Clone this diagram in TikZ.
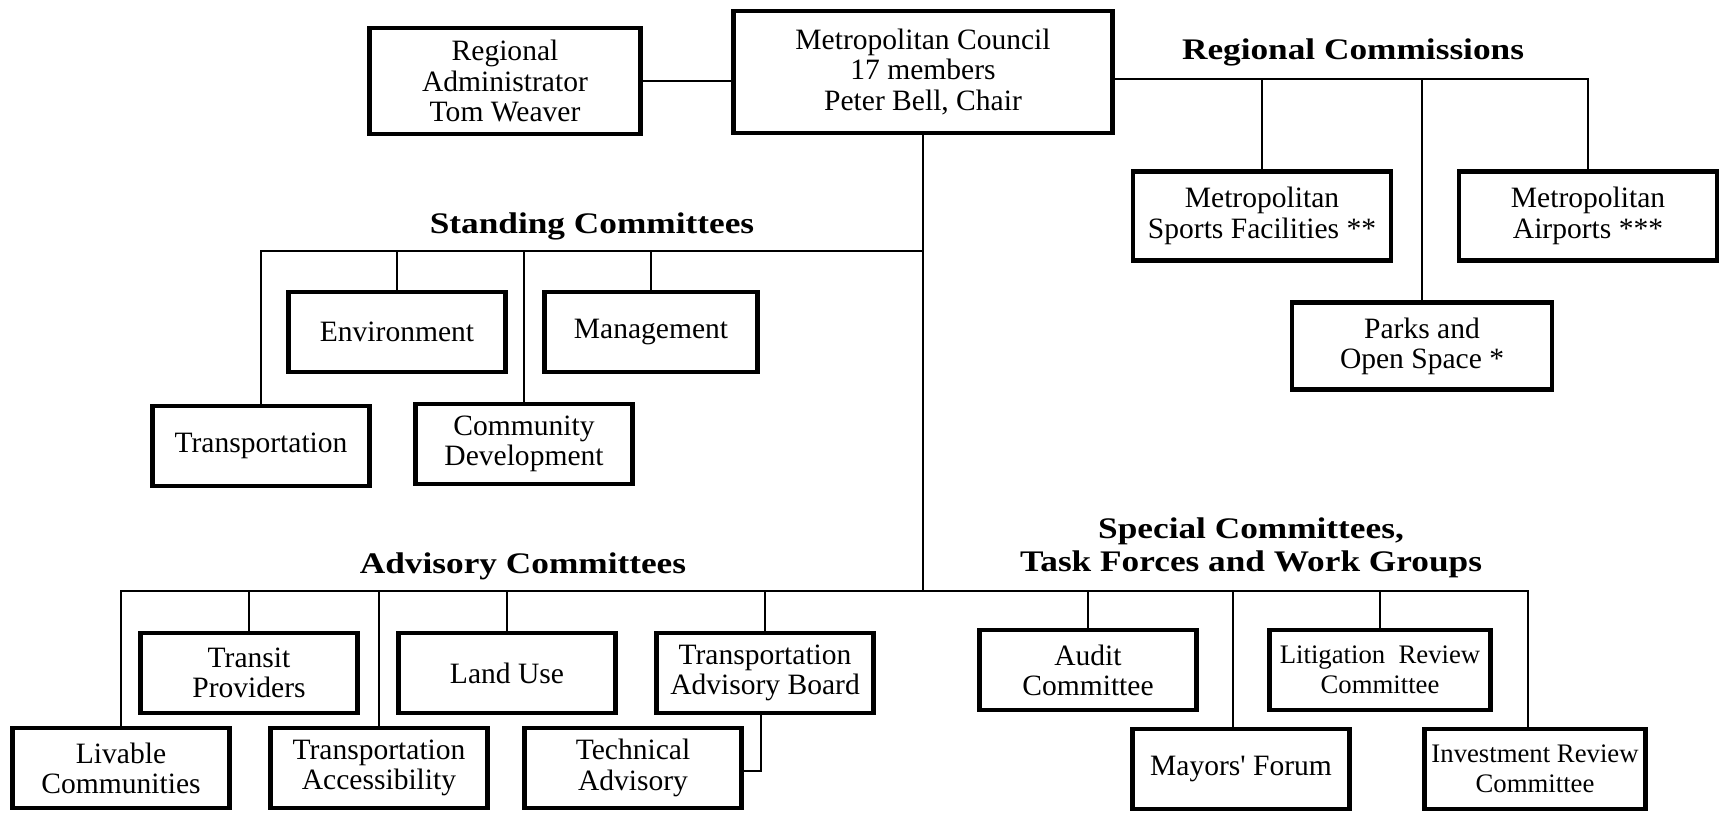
\documentclass[tikz,border=0pt]{standalone}
\usepackage{fontspec}
\setmainfont{Liberation Serif}
\newfontfamily\headfont{Liberation Serif}[FakeStretch=1.18]
\usepackage{tikz}

\begin{document}
\begin{tikzpicture}[x=0.01cm, y=-0.01cm,
        unit/.style={draw, line width=1.3pt, align=center, inner sep=0pt,
            font=\fontsize{8.4}{8.6}\selectfont,
            minimum width=2.17cm, minimum height=0.8cm},
        narrow/.style={font=\fontsize{7.6}{8.6}\selectfont},
        head/.style={align=center, inner sep=0pt,
            font=\headfont\bfseries\fontsize{8.5}{9.4}\selectfont},
        link/.style={line width=0.4pt}]
        \useasboundingbox (0,0) rectangle (1722,817);

        \node[unit, minimum width=2.71cm, minimum height=1.06cm] (admin) at (505,81) {Regional\\Administrator\\Tom Weaver};
        \node[unit, minimum width=3.79cm, minimum height=1.22cm] (council) at (923,72) {Metropolitan Council\\17 members\\Peter Bell, Chair};

        \node[head] (rchead) at (1353,52) {Regional Commissions};
        \node[unit, minimum width=2.58cm, minimum height=0.89cm] (sports) at (1262,216) {Metropolitan\\Sports Facilities **};
        \node[unit, minimum width=2.58cm, minimum height=0.89cm] (airports) at (1588,216) {Metropolitan\\Airports ***};
        \node[unit, minimum width=2.6cm, minimum height=0.87cm] (parks) at (1422,346) {Parks and\\Open Space *};

        \node[head] (sthead) at (592,226) {Standing Committees};
        \node[unit] (env) at (397,332) {Environment};
        \node[unit, minimum width=2.13cm] (mgmt) at (651,332) {Management};
        \node[unit] (transp) at (261,446) {Transportation};
        \node[unit] (commdev) at (524,444) {Community\\Development};

        \node[head] (advhead) at (523,566) {Advisory Committees};
        \node[unit] (transit) at (249,673) {Transit\\Providers};
        \node[unit] (landuse) at (507,673) {Land Use};
        \node[unit] (tab) at (765,673) {Transportation\\Advisory Board};
        \node[unit] (livable) at (121,768) {Livable\\Communities};
        \node[unit] (access) at (379,768) {Transportation\\Accessibility};
        \node[unit] (technical) at (633,768) {Technical\\Advisory};

        \node[head] (sphead) at (1251,548) {Special Committees,\\Task Forces and Work Groups};
        \node[unit] (audit) at (1088,670) {Audit\\Committee};
        \node[unit, narrow, minimum width=2.21cm] (litigation) at (1380,670) {Litigation\enspace Review\\Committee};
        \node[unit] (mayors) at (1241,769) {Mayors\textquotesingle\ Forum};
        \node[unit, narrow, minimum width=2.21cm] (investment) at (1535,769) {Investment Review\\Committee};

        \coordinate (rcbus) at (1588,79);
        \coordinate (stbus) at (923,251);
        \coordinate (advbus) at (923,591);
        \coordinate (busend) at (1528,591);
        \coordinate (mfdrop) at (1233,591);
        \coordinate (tabbend) at (761,771);

        \draw[link] (admin.east) -- (admin.east -| council.west);
        \draw[link] (council.east |- rcbus) -- (rcbus) -- (airports.north);
        \draw[link] (sports.north) -- (sports.north |- rcbus);
        \draw[link] (parks.north) -- (parks.north |- rcbus);

        \draw[link] (council.south) -- (advbus);
        \draw[link] (transp.north) |- (stbus);
        \foreach \n in {env,mgmt,commdev}
            \draw[link] (\n.north) -- (\n.north |- stbus);

        \draw[link] (livable.north) |- (busend) -- (busend |- investment.north);
        \foreach \n in {transit,access,landuse,tab,audit,litigation}
            \draw[link] (\n.north) -- (\n.north |- advbus);
        \draw[link] (mfdrop) -- (mfdrop |- mayors.north);
        \draw[link] (tabbend |- tab.south) -- (tabbend) -- (technical.east |- tabbend);
    \end{tikzpicture}
\end{document}
